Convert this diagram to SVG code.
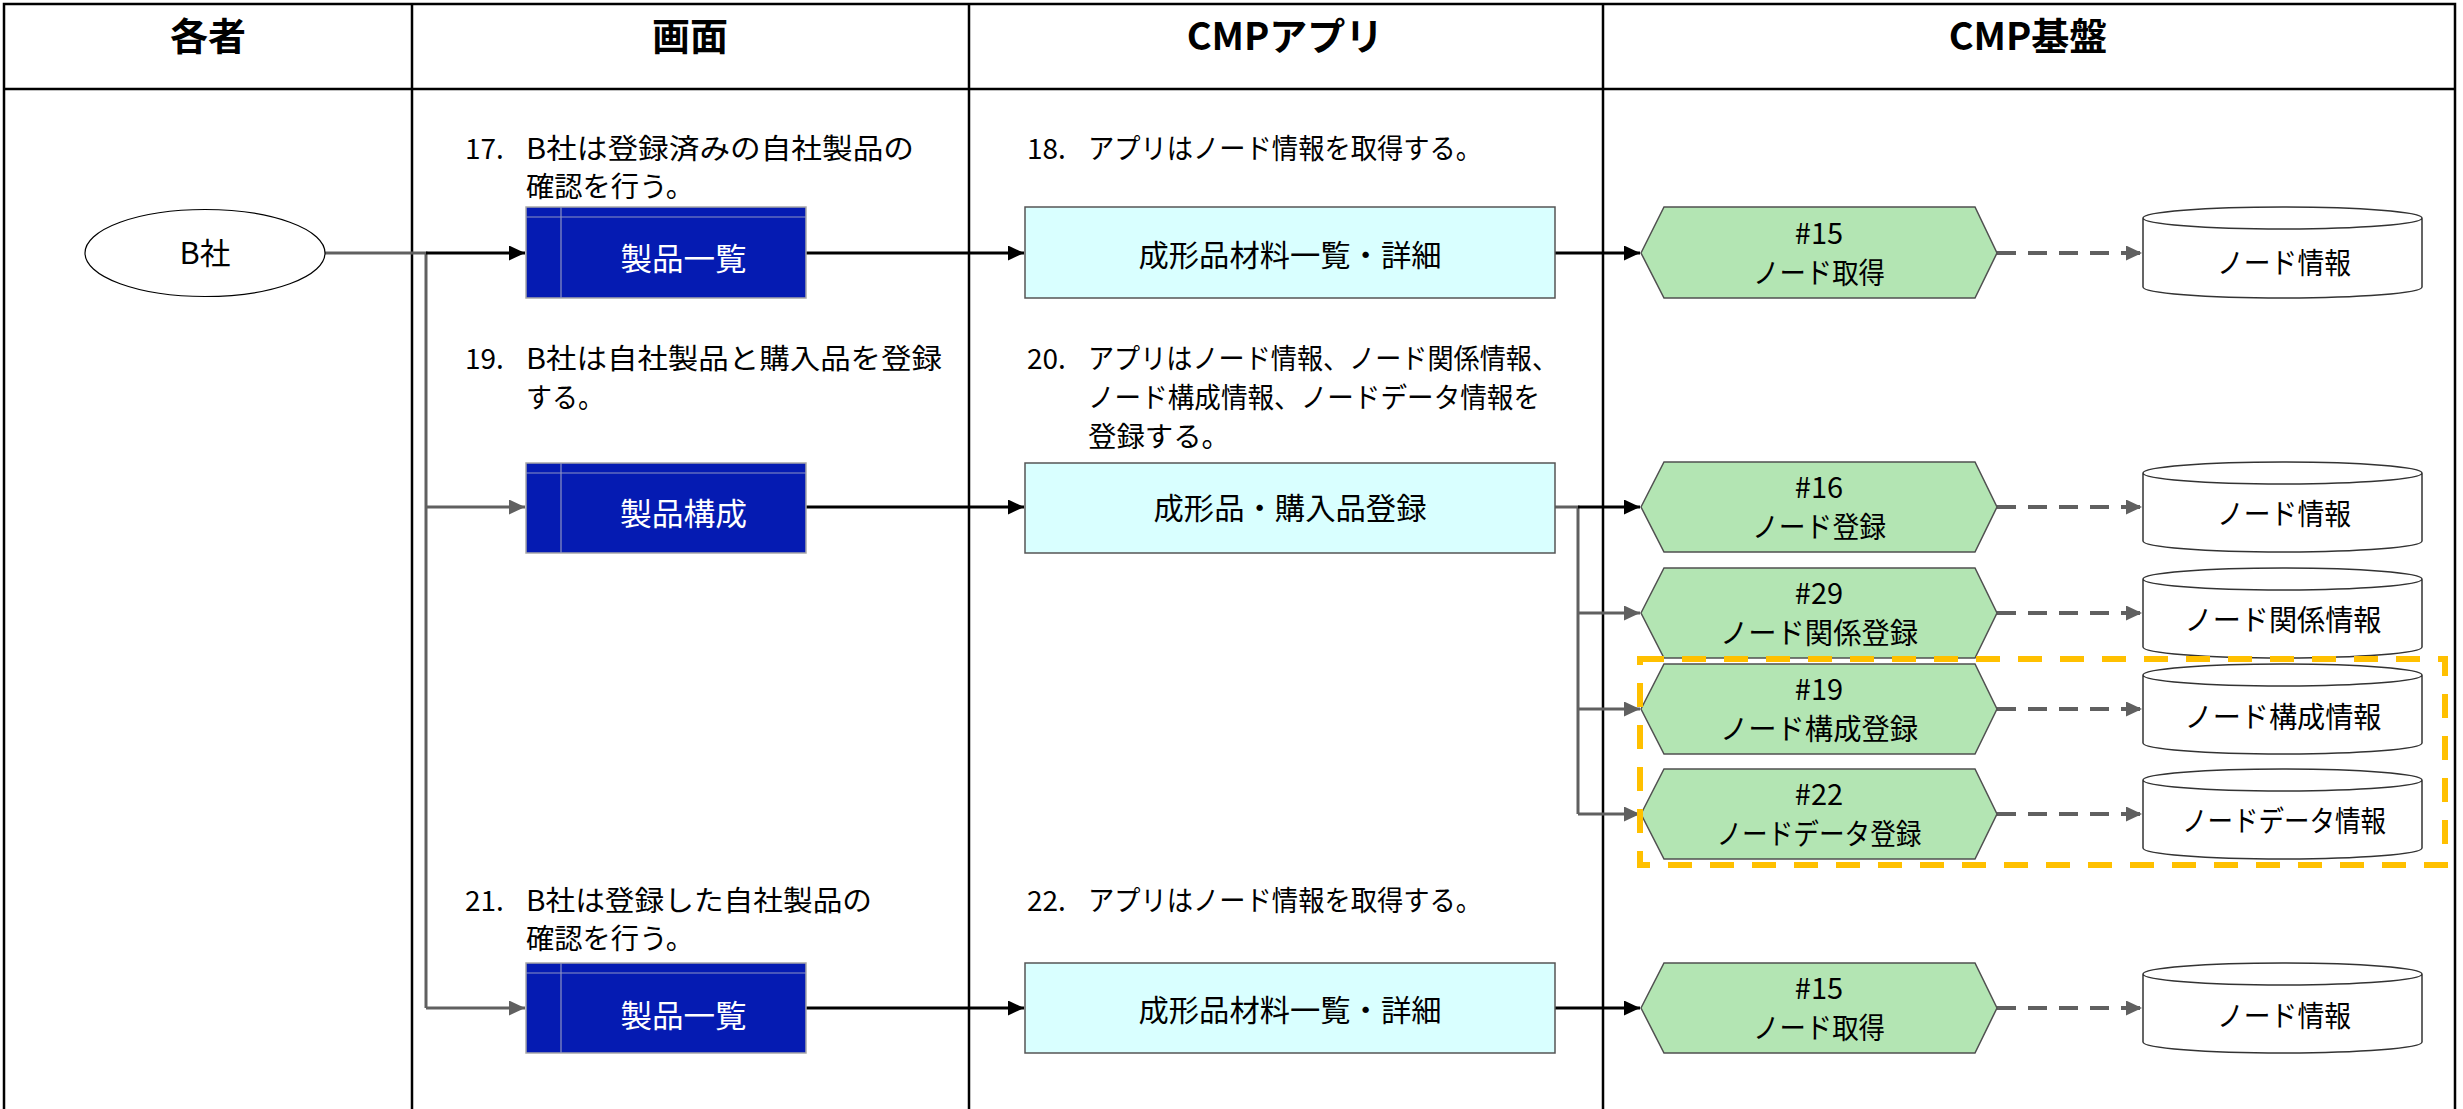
<svg xmlns="http://www.w3.org/2000/svg" width="2463" height="1109" viewBox="0 0 2463 1109">
<style>
text{font-family:"Noto Sans CJK JP","Noto Sans",sans-serif;fill:#000}
.hdr{font-size:38px;font-weight:700;text-anchor:middle}
.st{font-size:28px}
.lbl{font-size:30px;text-anchor:middle}
.wl{font-size:31px;text-anchor:middle;fill:#fff}
.hx{font-size:29px;text-anchor:middle}
.grid{stroke:#000;stroke-width:2.5;fill:none}
.scr{fill:#051bb2;stroke:#a8a8a8;stroke-width:1.5}
.scrl{stroke:#8d93c4;stroke-width:1.2}
.app{fill:#d9ffff;stroke:#555;stroke-width:1.5}
.hex{fill:#b3e5b3;stroke:#505050;stroke-width:1.5}
.db{fill:#fff;stroke:#333;stroke-width:1.5}
.k{stroke:#000;stroke-width:3;fill:none}
.g{stroke:#606060;stroke-width:3;fill:none}
.d{stroke:#606060;stroke-width:4;fill:none;stroke-dasharray:19 12}
</style>
<defs>
<marker id="ak" markerUnits="userSpaceOnUse" markerWidth="17" markerHeight="15" refX="16" refY="7.5" orient="auto"><path d="M0,0 L16,7.5 L0,15 z" fill="#000"/></marker>
<marker id="ag" markerUnits="userSpaceOnUse" markerWidth="17" markerHeight="15" refX="16" refY="7.5" orient="auto"><path d="M0,0 L16,7.5 L0,15 z" fill="#606060"/></marker>
</defs>
<rect width="2463" height="1109" fill="#fff"/>
<g id="table">
<path class="grid" d="M4,1109 V4 H2455 V1109"/>
<path class="grid" d="M4,89 H2455" stroke-width="3.5"/>
<path class="grid" d="M412,4 V1109 M969,4 V1109 M1603,4 V1109"/>
<text class="hdr" x="208" y="50">各者</text>
<text class="hdr" x="690" y="50">画面</text>
<text class="hdr" x="1285" y="50">CMPアプリ</text>
<text class="hdr" x="2028" y="50">CMP基盤</text>
</g>
<g id="steps">
<text class="st" x="465" y="159">17.</text>
<text class="st" x="526" y="159" textLength="388" lengthAdjust="spacingAndGlyphs">B社は登録済みの自社製品の</text>
<text class="st" x="526" y="197" textLength="168" lengthAdjust="spacingAndGlyphs">確認を行う。</text>
<text class="st" x="1027" y="159">18.</text>
<text class="st" x="1088" y="159" textLength="394" lengthAdjust="spacingAndGlyphs">アプリはノード情報を取得する。</text>
<text class="st" x="465" y="369">19.</text>
<text class="st" x="526" y="369" textLength="416" lengthAdjust="spacingAndGlyphs">B社は自社製品と購入品を登録</text>
<text class="st" x="526" y="408" textLength="78" lengthAdjust="spacingAndGlyphs">する。</text>
<text class="st" x="1027" y="369">20.</text>
<text class="st" x="1088" y="369" textLength="470" lengthAdjust="spacingAndGlyphs">アプリはノード情報、ノード関係情報、</text>
<text class="st" x="1088" y="408" textLength="452" lengthAdjust="spacingAndGlyphs">ノード構成情報、ノードデータ情報を</text>
<text class="st" x="1088" y="447" textLength="142" lengthAdjust="spacingAndGlyphs">登録する。</text>
<text class="st" x="465" y="911">21.</text>
<text class="st" x="526" y="911" textLength="346" lengthAdjust="spacingAndGlyphs">B社は登録した自社製品の</text>
<text class="st" x="526" y="949" textLength="168" lengthAdjust="spacingAndGlyphs">確認を行う。</text>
<text class="st" x="1027" y="911">22.</text>
<text class="st" x="1088" y="911" textLength="394" lengthAdjust="spacingAndGlyphs">アプリはノード情報を取得する。</text>
</g>
<g id="connectors">
<path class="g" d="M325,253 H426 V1008"/>
<path class="k" d="M426,253 H525" marker-end="url(#ak)"/>
<path class="g" d="M426,507 H525" marker-end="url(#ag)"/>
<path class="g" d="M426,1008 H525" marker-end="url(#ag)"/>
<path class="k" d="M806,253 H1024" marker-end="url(#ak)"/>
<path class="k" d="M806,507 H1024" marker-end="url(#ak)"/>
<path class="k" d="M806,1008 H1024" marker-end="url(#ak)"/>
<path class="k" d="M1555,253 H1640" marker-end="url(#ak)"/>
<path class="k" d="M1555,1008 H1640" marker-end="url(#ak)"/>
<path class="g" d="M1555,507 H1578 V814"/>
<path class="k" d="M1578,507 H1640" marker-end="url(#ak)"/>
<path class="g" d="M1578,613 H1640" marker-end="url(#ag)"/>
<path class="g" d="M1578,709 H1640" marker-end="url(#ag)"/>
<path class="g" d="M1578,814 H1640" marker-end="url(#ag)"/>
<path class="d" d="M1997,253 H2142" marker-end="url(#ag)"/>
<path class="d" d="M1997,507 H2142" marker-end="url(#ag)"/>
<path class="d" d="M1997,613 H2142" marker-end="url(#ag)"/>
<path class="d" d="M1997,709 H2142" marker-end="url(#ag)"/>
<path class="d" d="M1997,814 H2142" marker-end="url(#ag)"/>
<path class="d" d="M1997,1008 H2142" marker-end="url(#ag)"/>
</g>
<g id="actor-b">
<ellipse cx="205" cy="253" rx="120" ry="43.5" fill="#fff" stroke="#000" stroke-width="1.2"/>
<text class="lbl" x="205" y="264" textLength="51" lengthAdjust="spacingAndGlyphs">B社</text>
</g>
<g id="screen-list-1">
<rect class="scr" x="526" y="207" width="280" height="91"/>
<path class="scrl" d="M526,217 H806 M561,207 V298"/>
<text class="wl" x="683.5" y="270" textLength="126" lengthAdjust="spacingAndGlyphs">製品一覧</text>
</g>
<g id="screen-structure">
<rect class="scr" x="526" y="463" width="280" height="90"/>
<path class="scrl" d="M526,473 H806 M561,463 V553"/>
<text class="wl" x="683.5" y="525" textLength="127" lengthAdjust="spacingAndGlyphs">製品構成</text>
</g>
<g id="screen-list-2">
<rect class="scr" x="526" y="963" width="280" height="90"/>
<path class="scrl" d="M526,973 H806 M561,963 V1053"/>
<text class="wl" x="683.5" y="1027" textLength="126" lengthAdjust="spacingAndGlyphs">製品一覧</text>
</g>
<g id="app-list-1">
<rect class="app" x="1025" y="207" width="530" height="91"/>
<text class="lbl" x="1290" y="266" textLength="303" lengthAdjust="spacingAndGlyphs">成形品材料一覧・詳細</text>
</g>
<g id="app-register">
<rect class="app" x="1025" y="463" width="530" height="90"/>
<text class="lbl" x="1290" y="519" textLength="273" lengthAdjust="spacingAndGlyphs">成形品・購入品登録</text>
</g>
<g id="app-list-2">
<rect class="app" x="1025" y="963" width="530" height="90"/>
<text class="lbl" x="1290" y="1021" textLength="303" lengthAdjust="spacingAndGlyphs">成形品材料一覧・詳細</text>
</g>
<g id="api-15a">
<polygon class="hex" points="1641,253 1664,207 1975,207 1997,253 1975,298 1664,298"/>
<text class="hx" x="1819" y="244">#15</text>
<text class="hx" x="1819" y="284" textLength="132" lengthAdjust="spacingAndGlyphs">ノード取得</text>
</g>
<g id="api-16">
<polygon class="hex" points="1641,507 1664,462 1975,462 1997,507 1975,552 1664,552"/>
<text class="hx" x="1819" y="498">#16</text>
<text class="hx" x="1819" y="538" textLength="134" lengthAdjust="spacingAndGlyphs">ノード登録</text>
</g>
<g id="api-29">
<polygon class="hex" points="1641,613 1664,568 1975,568 1997,613 1975,658 1664,658"/>
<text class="hx" x="1819" y="604">#29</text>
<text class="hx" x="1819" y="644" textLength="198" lengthAdjust="spacingAndGlyphs">ノード関係登録</text>
</g>
<g id="api-19">
<polygon class="hex" points="1641,709 1664,664 1975,664 1997,709 1975,754 1664,754"/>
<text class="hx" x="1819" y="700">#19</text>
<text class="hx" x="1819" y="740" textLength="198" lengthAdjust="spacingAndGlyphs">ノード構成登録</text>
</g>
<g id="api-22">
<polygon class="hex" points="1641,814 1664,769 1975,769 1997,814 1975,859 1664,859"/>
<text class="hx" x="1819" y="805">#22</text>
<text class="hx" x="1819" y="845" textLength="205" lengthAdjust="spacingAndGlyphs">ノードデータ登録</text>
</g>
<g id="api-15b">
<polygon class="hex" points="1641,1008 1664,963 1975,963 1997,1008 1975,1053 1664,1053"/>
<text class="hx" x="1819" y="999">#15</text>
<text class="hx" x="1819" y="1039" textLength="132" lengthAdjust="spacingAndGlyphs">ノード取得</text>
</g>
<g id="db-node-a">
<path class="db" d="M2143,218 A139.5,11 0 0 1 2422,218 V287 A139.5,11 0 0 1 2143,287 Z M2143,218 A139.5,11 0 0 0 2422,218"/>
<text class="hx" x="2284" y="274" textLength="134" lengthAdjust="spacingAndGlyphs">ノード情報</text>
</g>
<g id="db-node-b">
<path class="db" d="M2143,473 A139.5,11 0 0 1 2422,473 V541 A139.5,11 0 0 1 2143,541 Z M2143,473 A139.5,11 0 0 0 2422,473"/>
<text class="hx" x="2284" y="525" textLength="134" lengthAdjust="spacingAndGlyphs">ノード情報</text>
</g>
<g id="db-relation">
<path class="db" d="M2143,579 A139.5,11 0 0 1 2422,579 V647 A139.5,11 0 0 1 2143,647 Z M2143,579 A139.5,11 0 0 0 2422,579"/>
<text class="hx" x="2283" y="631" textLength="197" lengthAdjust="spacingAndGlyphs">ノード関係情報</text>
</g>
<g id="db-structure">
<path class="db" d="M2143,675 A139.5,11 0 0 1 2422,675 V743 A139.5,11 0 0 1 2143,743 Z M2143,675 A139.5,11 0 0 0 2422,675"/>
<text class="hx" x="2283" y="728" textLength="197" lengthAdjust="spacingAndGlyphs">ノード構成情報</text>
</g>
<g id="db-data">
<path class="db" d="M2143,780 A139.5,11 0 0 1 2422,780 V848 A139.5,11 0 0 1 2143,848 Z M2143,780 A139.5,11 0 0 0 2422,780"/>
<text class="hx" x="2284" y="832" textLength="204" lengthAdjust="spacingAndGlyphs">ノードデータ情報</text>
</g>
<g id="db-node-c">
<path class="db" d="M2143,974 A139.5,11 0 0 1 2422,974 V1042 A139.5,11 0 0 1 2143,1042 Z M2143,974 A139.5,11 0 0 0 2422,974"/>
<text class="hx" x="2284" y="1027" textLength="134" lengthAdjust="spacingAndGlyphs">ノード情報</text>
</g>
<g id="highlight">
<rect x="1640" y="659" width="805" height="206" fill="none" stroke="#ffc000" stroke-width="6" stroke-dasharray="24 18"/>
</g>
</svg>
